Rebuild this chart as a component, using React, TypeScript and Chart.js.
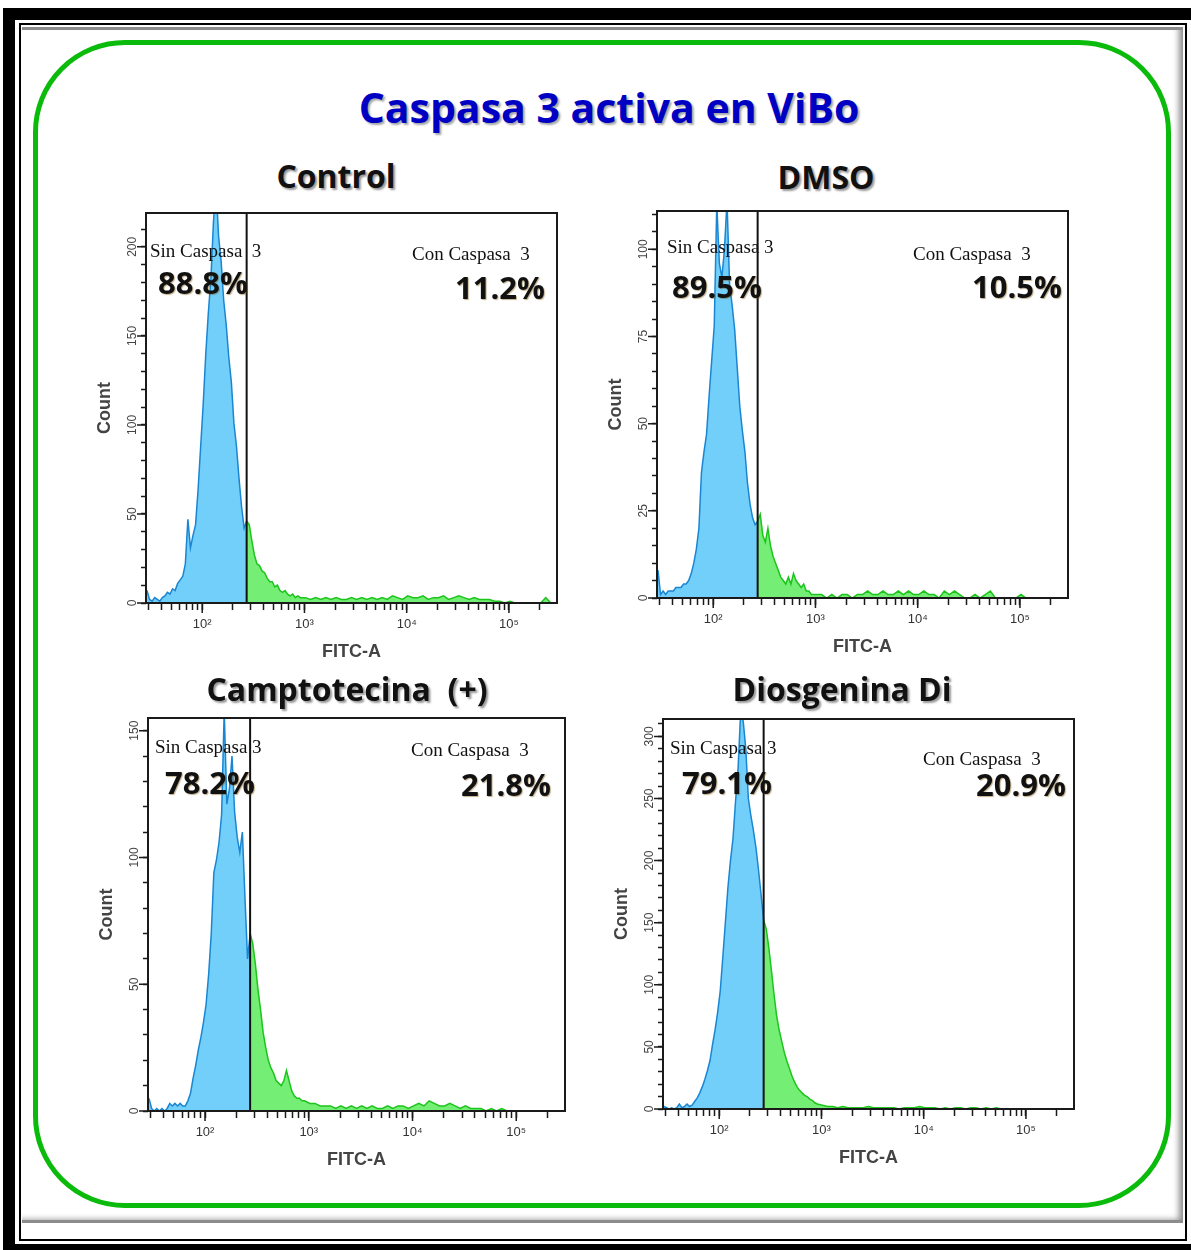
import React, { useEffect, useRef } from 'react';
import { Chart, registerables } from 'chart.js';

Chart.register(...registerables);

// ---------- DATA ----------
// histogram bin centres, as log10(FITC-A)
const BIN_LOG = [
  1.46, 1.485, 1.51, 1.535, 1.56, 1.585, 1.61, 1.635, 1.66, 1.685,
  1.71, 1.735, 1.76, 1.785, 1.81, 1.835, 1.86, 1.885, 1.91, 1.935,
  1.96, 1.985, 2.01, 2.035, 2.06, 2.085, 2.11, 2.135, 2.16, 2.185,
  2.21, 2.235, 2.26, 2.285, 2.31, 2.335, 2.36, 2.385, 2.41, 2.435,
  2.46, 2.485, 2.51, 2.535, 2.56, 2.585, 2.61, 2.635, 2.66, 2.685,
  2.71, 2.735, 2.76, 2.785, 2.81, 2.835, 2.86, 2.885, 2.91, 2.935,
  2.96, 3.01, 3.06, 3.11, 3.16, 3.21, 3.26, 3.31, 3.36, 3.41,
  3.46, 3.51, 3.56, 3.61, 3.66, 3.71, 3.76, 3.81, 3.86, 3.91,
  3.96, 4.01, 4.06, 4.11, 4.16, 4.21, 4.26, 4.31, 4.36, 4.41,
  4.46, 4.51, 4.56, 4.61, 4.66, 4.71, 4.76, 4.81, 4.86, 4.91,
  4.96, 5.01, 5.06, 5.11, 5.16, 5.21, 5.26, 5.31, 5.36, 5.41,
];
const GATE_BIN = 39; // bin index of the gate (log 2.435)
const GATE_FITC = 272;

const CONTROL_COUNTS = [
  7, 2, 1, 3, 2, 1, 3, 4, 6, 5,
  8, 7, 11, 13, 15, 22, 47, 31, 38, 44,
  64, 88, 112, 140, 163, 182, 214, 235, 206, 192,
  170, 156, 138, 124, 101, 88, 70, 54, 42, 46,
  44, 35, 27, 22, 21, 18, 17, 14, 12, 12,
  9, 10, 7, 6, 7, 5, 4, 5, 3, 4,
  3, 3, 2, 3, 2, 3, 2, 3, 2, 2,
  3, 2, 3, 2, 3, 2, 3, 2, 4, 3,
  2, 4, 3, 3, 4, 2, 3, 3, 4, 2,
  3, 4, 3, 2, 3, 2, 2, 2, 1, 1,
  0, 1, 0, 0, 0, 0, 0, 0, 3, 0,
];
const DMSO_COUNTS = [
  8, 1, 2, 1, 2, 2, 2, 3, 3, 3,
  4, 4, 5, 7, 10, 14, 20, 36, 42, 47,
  58, 68, 78, 113, 96, 92, 100, 114, 90, 84,
  77, 66, 55, 48, 42, 33, 27, 23, 21, 22,
  24, 18, 16, 20, 15, 12, 10, 8, 6, 5,
  4, 6, 4, 7, 5, 4, 3, 4, 2, 2,
  1, 1, 1, 0, 1, 0, 1, 1, 0, 1,
  1, 2, 1, 1, 2, 1, 1, 2, 1, 2,
  1, 1, 2, 1, 1, 0, 2, 1, 2, 1,
  0, 0, 1, 0, 1, 2, 0, 0, 0, 0,
  0, 1, 0, 0, 0, 0, 0, 0, 0, 0,
];
const CAMPTO_COUNTS = [
  5, 1, 0, 1, 0, 1, 0, 1, 3, 2,
  3, 2, 3, 2, 2, 4, 7, 13, 18, 24,
  29, 35, 42, 54, 70, 94, 99, 106, 117, 158,
  121, 127, 140, 118, 108, 102, 110, 84, 60, 70,
  66, 58, 48, 40, 31, 25, 20, 17, 15, 12,
  11, 10, 12, 16, 12, 8, 6, 5, 5, 4,
  4, 3, 3, 2, 2, 2, 1, 2, 1, 2,
  1, 2, 1, 2, 1, 1, 2, 1, 2, 2,
  1, 2, 3, 2, 4, 3, 2, 2, 3, 2,
  1, 2, 1, 1, 1, 0, 1, 0, 1, 0,
  0, 0, 0, 0, 0, 0, 0, 0, 0, 0,
];
const DIOS_COUNTS = [
  2, 1, 0, 1, 0, 1, 4, 1, 2, 4,
  2, 3, 6, 9, 13, 18, 24, 31, 39, 52,
  64, 78, 95, 122, 150, 178, 200, 218, 248, 275,
  320, 312, 290, 250, 236, 224, 210, 192, 172, 152,
  145, 130, 112, 93, 76, 64, 55, 46, 39, 33,
  27, 22, 18, 15, 13, 11, 10, 8, 7, 5,
  4, 3, 2, 2, 1, 2, 1, 1, 1, 1,
  2, 1, 1, 1, 1, 1, 0, 1, 1, 1,
  2, 1, 1, 1, 0, 1, 0, 1, 1, 0,
  1, 1, 0, 1, 0, 1, 0, 0, 0, 0,
  0, 0, 0, 0, 0, 0, 0, 0, 0, 0,
];

const X_MIN = 28.2;
const X_MAX = 295000;
const X_TICKS = [
  30, 40, 50, 60, 70, 80, 90,
  100, 200, 300, 400, 500, 600, 700, 800, 900,
  1000, 2000, 3000, 4000, 5000, 6000, 7000, 8000, 9000,
  10000, 20000, 30000, 40000, 50000, 60000, 70000, 80000, 90000,
  100000, 200000,
];
const X_DECADES = [100, 1000, 10000, 100000];
const X_DECADE_LABELS = ['10²', '10³', '10⁴', '10⁵'];

const MAIN_TITLE = 'Caspasa 3 activa en ViBo';
const PANEL_TITLES = ['Control', 'DMSO', 'Camptotecina  (+)', 'Diosgenina Di'];
const SIN_LABELS = ['Sin Caspasa  3', 'Sin Caspasa 3', 'Sin Caspasa 3', 'Sin Caspasa 3'];
const CON_LABELS = ['Con Caspasa  3', 'Con Caspasa  3', 'Con Caspasa  3', 'Con Caspasa  3'];
const SIN_PCT = ['88.8%', '89.5%', '78.2%', '79.1%'];
const CON_PCT = ['11.2%', '10.5%', '21.8%', '20.9%'];
const Y_MAX = [219, 111, 155, 314];
const Y_STEP = [10, 5, 10, 10];
const Y_MAJOR = [50, 25, 50, 50];
const PANEL_COUNTS = [CONTROL_COUNTS, DMSO_COUNTS, CAMPTO_COUNTS, DIOS_COUNTS];

// ---------- LAYOUT ----------
const LAYOUT = [
  { cv: { x: 90, y: 203, w: 477, h: 460 }, title: { cx: 336, b: 188 }, sin: { x: 150, b: 257 }, sinP: { x: 158, b: 295 }, con: { x: 412, b: 260 }, conP: { x: 455, b: 300 } },
  { cv: { x: 601, y: 201, w: 477, h: 457 }, title: { cx: 826, b: 189 }, sin: { x: 667, b: 253 }, sinP: { x: 672, b: 299 }, con: { x: 913, b: 260 }, conP: { x: 972, b: 299 } },
  { cv: { x: 92, y: 708, w: 483, h: 463 }, title: { cx: 347, b: 701 }, sin: { x: 155, b: 753 }, sinP: { x: 165, b: 795 }, con: { x: 411, b: 756 }, conP: { x: 461, b: 797 } },
  { cv: { x: 607, y: 709, w: 477, h: 460 }, title: { cx: 842, b: 701 }, sin: { x: 670, b: 754 }, sinP: { x: 682, b: 795 }, con: { x: 923, b: 765 }, conP: { x: 976, b: 797 } },
];

const SANS = '"Liberation Sans", Arial, sans-serif';
const OPEN = '"Open Sans", "Noto Sans", sans-serif';
const SERIF = '"Liberation Serif", "Times New Roman", serif';

function buildChart(canvas: HTMLCanvasElement, idx: number) {
  const counts = PANEL_COUNTS[idx];
  const yMajor = Y_MAJOR[idx];
  const pts = BIN_LOG.map((e, i) => ({ x: Math.pow(10, e), y: counts[i] }));
  const below = pts.slice(0, GATE_BIN + 1);
  const above = pts.slice(GATE_BIN);

  const framePlugin = {
    id: 'facsFrame',
    afterDraw(chart: any) {
      const { ctx, chartArea: a } = chart;
      const xs = chart.scales.x;
      const ys = chart.scales.y;
      ctx.save();
      ctx.strokeStyle = '#1a1a1a';
      ctx.lineWidth = 1.5;
      ctx.beginPath();
      X_DECADES.forEach((v) => {
        const px = xs.getPixelForValue(v);
        ctx.moveTo(px, a.bottom);
        ctx.lineTo(px, a.bottom + 10);
      });
      ys.ticks.forEach((t: any) => {
        if (t.value % yMajor === 0) {
          const py = ys.getPixelForValue(t.value);
          ctx.moveTo(a.left - 9, py);
          ctx.lineTo(a.left, py);
        }
      });
      ctx.stroke();
      const gx = xs.getPixelForValue(GATE_FITC);
      ctx.lineWidth = 2;
      ctx.strokeStyle = '#111';
      ctx.beginPath();
      ctx.moveTo(gx, a.top);
      ctx.lineTo(gx, a.bottom);
      ctx.stroke();
      ctx.strokeStyle = '#1a1a1a';
      ctx.strokeRect(a.left, a.top, a.right - a.left, a.bottom - a.top);
      ctx.restore();
    },
  };

  return new Chart(canvas, {
    type: 'line',
    data: {
      datasets: [
        {
          data: below,
          borderColor: '#1a86d2',
          backgroundColor: '#72cffa',
          fill: 'origin',
          borderWidth: 1.5,
          pointRadius: 0,
          tension: 0,
        },
        {
          data: above,
          borderColor: '#1cc41c',
          backgroundColor: '#74ee74',
          fill: 'origin',
          borderWidth: 1.5,
          pointRadius: 0,
          tension: 0,
        },
      ],
    },
    options: {
      animation: false,
      responsive: false,
      maintainAspectRatio: false,
      layout: { padding: { top: 10, right: 10, left: 0, bottom: 0 } },
      plugins: { legend: { display: false }, tooltip: { enabled: false } },
      scales: {
        x: {
          type: 'logarithmic',
          min: X_MIN,
          max: X_MAX,
          position: 'bottom',
          afterBuildTicks: (s: any) => {
            s.ticks = X_TICKS.map((v) => ({ value: v }));
          },
          afterFit: (s: any) => {
            s.height = 60;
          },
          grid: { drawOnChartArea: false, drawTicks: true, tickLength: 7, tickColor: '#1a1a1a', tickWidth: 1.5 },
          border: { display: false },
          ticks: {
            autoSkip: false,
            maxRotation: 0,
            minRotation: 0,
            padding: 7,
            color: '#333',
            font: { family: SANS, size: 13 },
            callback: (v: any) => {
              const k = X_DECADES.indexOf(Number(v));
              return k >= 0 ? X_DECADE_LABELS[k] : '';
            },
          },
          title: {
            display: true,
            text: 'FITC-A',
            color: '#444',
            font: { family: SANS, size: 18, weight: 'bold' },
            padding: { top: 0, bottom: 0 },
          },
        },
        y: {
          type: 'linear',
          min: 0,
          max: Y_MAX[idx],
          afterFit: (s: any) => {
            s.width = 56;
          },
          grid: { drawOnChartArea: false, drawTicks: true, tickLength: 5, tickColor: '#1a1a1a', tickWidth: 1.5 },
          border: { display: false },
          ticks: {
            stepSize: Y_STEP[idx],
            includeBounds: false,
            autoSkip: false,
            minRotation: 90,
            maxRotation: 90,
            crossAlign: 'center',
            padding: -2,
            color: '#444',
            font: { family: SANS, size: 12 },
            callback: (v: any) => (Number(v) % yMajor === 0 ? String(v) : ''),
          },
          title: {
            display: true,
            text: 'Count',
            color: '#444',
            font: { family: SANS, size: 18, weight: 'bold' },
            padding: { top: 4, bottom: 0 },
          },
        },
      },
    } as any,
    plugins: [framePlugin],
  });
}

function FacsPanel({ idx }: { idx: number }) {
  const ref = useRef<HTMLCanvasElement>(null);
  const cv = LAYOUT[idx].cv;
  useEffect(() => {
    const chart = buildChart(ref.current as HTMLCanvasElement, idx);
    return () => chart.destroy();
  }, [idx]);
  return (
    <canvas
      ref={ref}
      width={cv.w}
      height={cv.h}
      style={{ position: 'absolute', left: cv.x, top: cv.y, width: cv.w, height: cv.h }}
    />
  );
}

type TextProps = {
  text: string;
  x?: number;
  cx?: number;
  b: number;
  size: number;
  family: string;
  weight?: number | string;
  color: string;
  factor: number;
  shadow?: string;
};

function Txt({ text, x, cx, b, size, family, weight, color, factor, shadow }: TextProps) {
  const style: any = {
    position: 'absolute',
    top: b - factor * size,
    fontSize: size,
    lineHeight: `${size}px`,
    fontFamily: family,
    fontWeight: weight || 400,
    color,
    whiteSpace: 'pre',
    textShadow: shadow,
    zIndex: 5,
  };
  if (cx !== undefined) {
    style.left = cx - 400;
    style.width = 800;
    style.textAlign = 'center';
  } else {
    style.left = x;
  }
  return <div style={style}>{text}</div>;
}

export default function App() {
  const OPEN_F = 0.888;
  const SERIF_F = 0.8375;
  return (
    <div style={{ position: 'absolute', left: 0, top: 0, width: 1191, height: 1250, background: '#fff', overflow: 'hidden' }}>
      {/* outer frame */}
      <div style={{ position: 'absolute', left: 3, top: 8, width: 1188, height: 1242, background: '#000' }} />
      <div style={{ position: 'absolute', left: 15, top: 20, width: 1176, height: 1224, background: '#fff' }} />
      <div style={{ position: 'absolute', left: 19, top: 23, width: 1168, height: 1218, border: '2.5px solid #000', boxSizing: 'border-box', background: '#fff' }} />
      <div
        style={{
          position: 'absolute',
          left: 22,
          top: 27,
          width: 1161,
          height: 1196,
          boxSizing: 'border-box',
          borderTop: '3px solid #8c8c8c',
          borderBottom: '3px solid #8c8c8c',
          boxShadow: 'inset -7px -3px 6px -3px rgba(0,0,0,0.45)',
          background: '#fff',
        }}
      />
      {/* green rounded frame */}
      <div
        style={{
          position: 'absolute',
          left: 33,
          top: 40,
          width: 1138,
          height: 1168,
          boxSizing: 'border-box',
          border: '5px solid #0bbb0b',
          borderRadius: 92,
        }}
      />
      <Txt text={MAIN_TITLE} cx={609} b={123} size={41} family={OPEN} weight={700} color="#0000c4" factor={OPEN_F} shadow="2px 2px 2px rgba(0,0,0,0.35)" />
      {LAYOUT.map((L, i) => (
        <React.Fragment key={i}>
          <FacsPanel idx={i} />
          <Txt text={PANEL_TITLES[i]} cx={L.title.cx} b={L.title.b} size={32} family={OPEN} weight={700} color="#111" factor={OPEN_F} shadow="2px 2px 2px rgba(0,0,0,0.4)" />
          <Txt text={SIN_LABELS[i]} x={L.sin.x} b={L.sin.b} size={19} family={SERIF} color="#111" factor={SERIF_F} />
          <Txt text={CON_LABELS[i]} x={L.con.x} b={L.con.b} size={19} family={SERIF} color="#111" factor={SERIF_F} />
          <Txt text={SIN_PCT[i]} x={L.sinP.x} b={L.sinP.b} size={31} family={OPEN} weight={700} color="#111" factor={OPEN_F} shadow="1px 1px 1px rgba(120,80,0,0.45)" />
          <Txt text={CON_PCT[i]} x={L.conP.x} b={L.conP.b} size={31} family={OPEN} weight={700} color="#111" factor={OPEN_F} shadow="1px 1px 1px rgba(120,80,0,0.45)" />
        </React.Fragment>
      ))}
    </div>
  );
}
